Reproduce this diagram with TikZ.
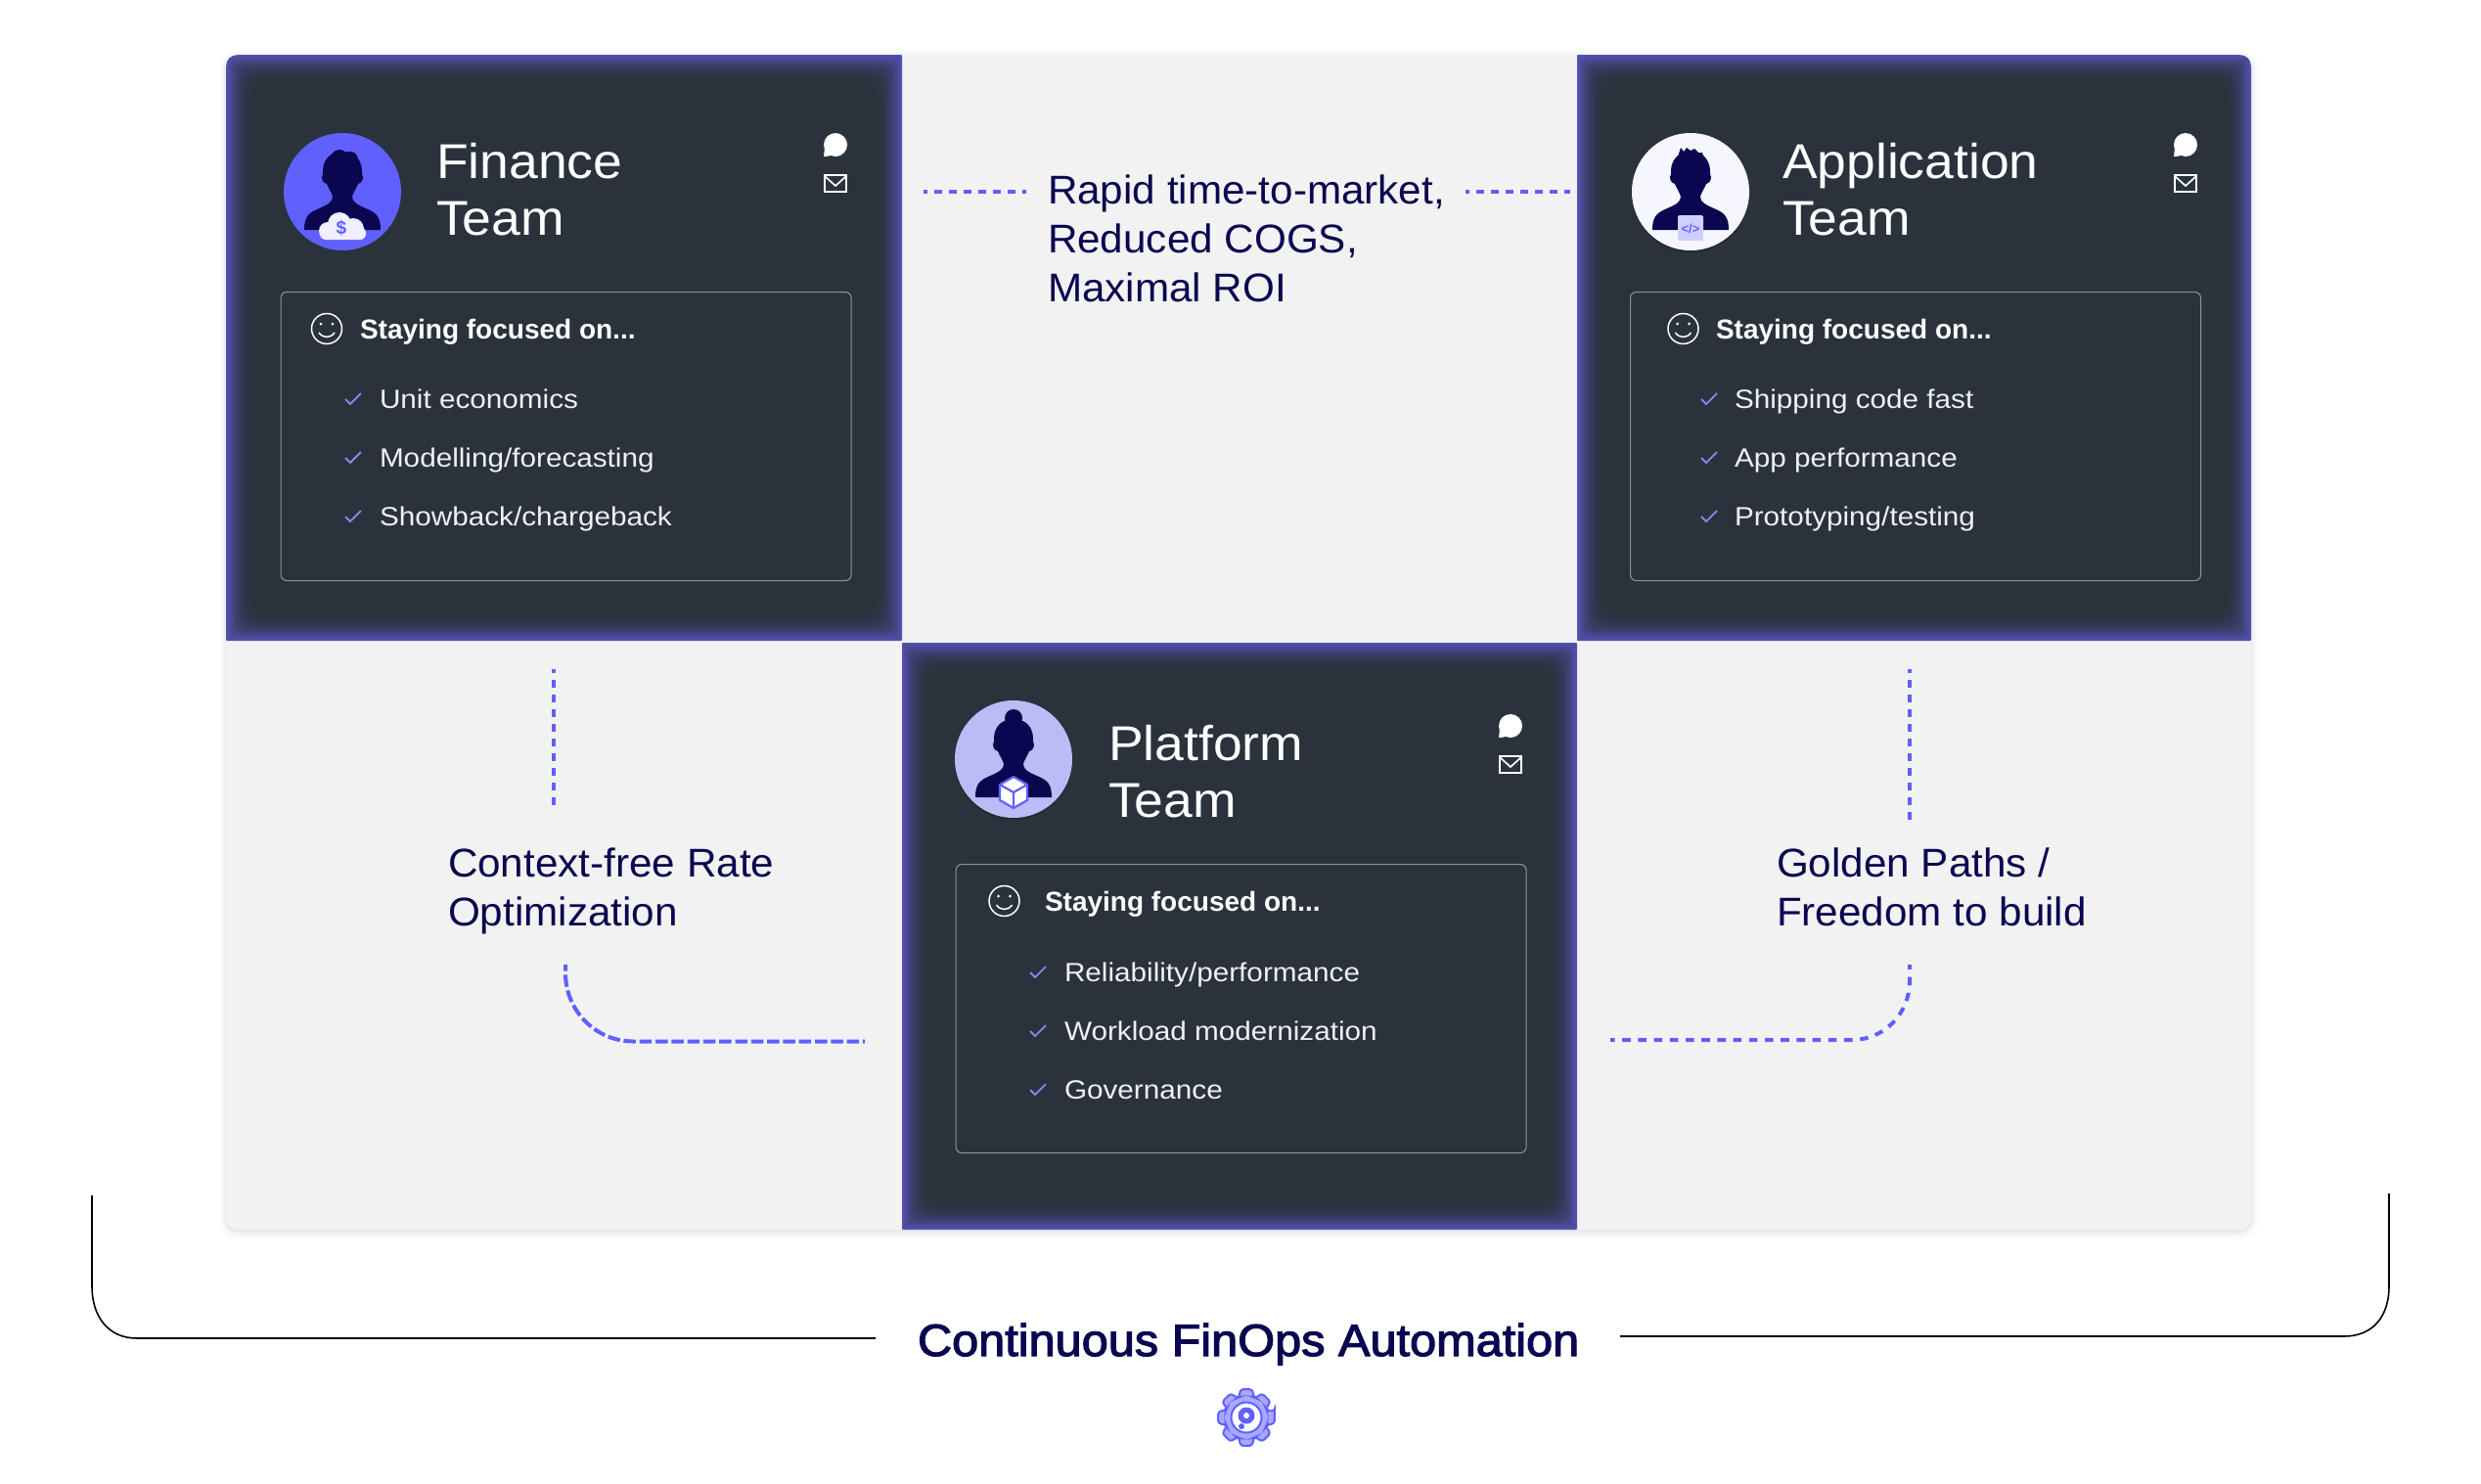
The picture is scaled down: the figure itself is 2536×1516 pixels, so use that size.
\documentclass[tikz,border=0pt]{standalone}
\usepackage{fontspec}
\setmainfont{Liberation Sans}
\newfontfamily\teamfont[FakeStretch=1.07]{Liberation Sans}
\newfontfamily\itemfont[FakeStretch=1.10]{Liberation Sans}
\newfontfamily\bigfont[FakeStretch=1.03]{Liberation Sans}
\newfontfamily\autofont[FakeStretch=1.058,FakeBold=2.5]{Liberation Sans}
\definecolor{navy}{HTML}{0A0650}
\definecolor{darkp}{HTML}{2A323C}
\definecolor{glow}{HTML}{5552B4}
\definecolor{cellg}{HTML}{F2F2F2}
\definecolor{acc}{HTML}{6060FF}
\definecolor{lilac}{HTML}{BCBBF5}
\definecolor{chk}{HTML}{8A85F0}
\definecolor{boxl}{HTML}{8D9199}
\definecolor{itemc}{HTML}{F0F0F6}
\tikzset{
  x=1pt,y=-1pt,
  txt/.style={inner sep=0pt,outer sep=0pt,anchor=base west},
  teamname/.style={txt,align=left,text=white,font=\teamfont\fontsize{50}{58}\selectfont},
  boxhead/.style={txt,text=white,font=\bfseries\fontsize{28}{32}\selectfont},
  itemtxt/.style={txt,text=itemc,font=\itemfont\fontsize{27}{32}\selectfont},
  bigtxt/.style={txt,align=left,text=navy,font=\bigfont\fontsize{41}{50}\selectfont},
  conn/.style={draw=acc,line width=4pt,dash pattern=on 8pt off 7pt},
  connlong/.style={draw=acc,line width=4pt,dash pattern=on 12.5pt off 3.8pt},
  connmid/.style={draw=acc,line width=4pt,dash pattern=on 8.6pt off 7.6pt},
  bracket/.style={draw=black,line width=1.6pt},
  chkmark/.style={draw=chk,line width=1.8pt},
  innerbox/.style={draw=boxl,line width=1.1pt,rounded corners=6pt},
  whitel/.style={draw=white,line width=1.7pt}
}
% inner glow panel
\newcommand{\glowpanel}[4]{%
  \foreach \i in {0,...,26}{%
    \pgfmathtruncatemacro\p{100*(1-\i/26)^1.7}%
    \fill[glow!\p!darkp,rounded corners={(\i+1)*0.9pt}] ({#1+\i},{#2+\i}) rectangle ({#3-\i},{#4-\i});
  }%
}
% person silhouette, drawn around the avatar centre
\newcommand{\silhouette}{%
  \fill[navy] (-39,39) .. controls (-39,26) and (-35,22) .. (-26,18)
    .. controls (-15,13) and (-10,11) .. (-10,5)
    .. controls (-11,1) and (-14,-3) .. (-16,-8)
    .. controls (-21,-9) and (-22,-15) .. (-20,-18)
    .. controls (-21,-32) and (-13,-41) .. (0,-41)
    .. controls (13,-41) and (21,-32) .. (20,-18)
    .. controls (22,-15) and (21,-9) .. (16,-8)
    .. controls (14,-3) and (11,1) .. (10,5)
    .. controls (10,11) and (15,13) .. (26,18)
    .. controls (35,22) and (39,26) .. (39,39) -- cycle;
}
\newcommand{\contacticons}[2]{%
  \begin{scope}[shift={(#1,#2)}]
    \fill[white] (0,0) ellipse [x radius=12,y radius=12];
    \fill[white] (-11,3) -- (-12,12) .. controls (-8,12) and (-5,11) .. (-2,10) -- cycle;
    \draw[whitel] (-11,31) rectangle (11,48);
    \draw[whitel] (-11,32) -- (0,42) -- (11,32);
  \end{scope}%
}
\newcommand{\smiley}[2]{%
  \begin{scope}[shift={(#1,#2)}]
    \draw[whitel,line width=1.5pt] (0,0) circle (15.5);
    \fill[white] (-6,-5) circle (1.5) (6,-5) circle (1.5);
    \draw[whitel,line width=1.5pt] (-8,4) .. controls (-4,10) and (4,10) .. (8,4);
  \end{scope}%
}
\newcommand{\tick}[2]{%
  \draw[chkmark] ({#1},{#2}) -- ({#1+5},{#2+5}) -- ({#1+16},{#2-6});
}
\begin{document}
\begin{tikzpicture}
\useasboundingbox (0,0) rectangle (2536,1516);
\fill[white] (0,0) rectangle (2536,1516);
% soft shadow and grid
\foreach \s/\o in {8/0.012,5/0.016,3/0.022,1/0.035}{
  \fill[black,opacity=\o,rounded corners={12pt+\s*1pt}] ({231-\s},{56-\s+2}) rectangle ({2301+\s},{1257+\s+2});
}
\fill[cellg,rounded corners=12pt] (231,56) rectangle (2301,1257);
\begin{scope}
  \clip[rounded corners=12pt] (231,56) rectangle (2301,1257);
  \glowpanel{231}{56}{922}{655}
  \glowpanel{1612}{56}{2301}{655}
  \glowpanel{922}{657}{1612}{1257}
\end{scope}

% avatars
\fill[acc] (350,196) circle (60);
\begin{scope}[shift={(350,196)}]
  \silhouette
  \fill[navy] (-3,-34) circle (9) (8,-33) circle (8);
  \fill[acc!10!white] (-3,33) circle (12) (11,38) circle (11) (-15,40) circle (9);
  \fill[acc!10!white,rounded corners=6pt] (-23,36) rectangle (24,49);
  \node[txt,anchor=base,text=acc,font=\bfseries\fontsize{19}{20}\selectfont] (fin-dollar) at (-1,43) {\$};
\end{scope}
\fill[black,opacity=.18] (1728,198) circle (60);
\fill[acc!6!white] (1728,196) circle (60);
\begin{scope}[shift={(1728,196)}]
  \silhouette
  \fill[navy] (-14,-33) -- (-10,-45) -- (-7,-41) -- (-4,-45) -- (0,-42) -- (4,-44) -- (8,-40) -- (12,-40) -- (17,-25) -- cycle;
  \fill[acc!30!white,rounded corners=2pt] (-13,24) rectangle (13,50);
  \node[txt,anchor=base,text=acc,font=\bfseries\fontsize{13}{14}\selectfont] (app-code) at (0,42) {</>};
\end{scope}
\fill[black,opacity=.18] (1036,778) circle (60);
\fill[lilac] (1036,776) circle (60);
\begin{scope}[shift={(1036,776)}]
  \silhouette
  \fill[navy] (0,-42) circle (9);
  \begin{scope}[shift={(0,34)}]
    \fill[white] (0,-16) -- (14,-8) -- (14,8) -- (0,16) -- (-14,8) -- (-14,-8) -- cycle;
    \draw[acc,line width=2.2pt,line join=round] (0,-16) -- (14,-8) -- (14,8) -- (0,16) -- (-14,8) -- (-14,-8) -- cycle;
    \draw[acc,line width=2.2pt,line join=round] (-14,-8) -- (0,0) -- (14,-8) (0,0) -- (0,16);
  \end{scope}
\end{scope}

% team names (positions are the baseline of the last line)
\node[teamname] (fin-name) at (446,240) {Finance\\Team};
\node[teamname] (app-name) at (1822,240) {Application\\Team};
\node[teamname] (plat-name) at (1133,835) {Platform\\Team};

\contacticons{854}{148}
\contacticons{2234}{148}
\contacticons{1544}{742}

% inner boxes
\node[innerbox,minimum width=583pt,minimum height=295pt,anchor=north west,inner sep=0pt] (fin-box) at (286.5,298) {};
\node[innerbox,minimum width=583pt,minimum height=295pt,anchor=north west,inner sep=0pt] (app-box) at (1666,298) {};
\node[innerbox,minimum width=583pt,minimum height=295pt,anchor=north west,inner sep=0pt] (plat-box) at (976.5,883) {};

\smiley{334}{336}
\smiley{1720.5}{336}
\smiley{1026.5}{921}

\node[boxhead] (fin-head) at (368,346) {Staying focused on...};
\node[boxhead] (app-head) at (1754,346) {Staying focused on...};
\node[boxhead] (plat-head) at (1068,931) {Staying focused on...};

\foreach \xx/\yy/\nm/\tx/\tk in {388/417/fin-i1/Unit economics/353,388/477/fin-i2/Modelling\slash forecasting/353,388/537/fin-i3/Showback\slash chargeback/353,
  1773/417/app-i1/Shipping code fast/1739,1773/477/app-i2/App performance/1739,1773/537/app-i3/Prototyping\slash testing/1739,
  1088/1003/plat-i1/Reliability\slash performance/1053,1088/1063/plat-i2/Workload modernization/1053,1088/1123/plat-i3/Governance/1053}{
  \node[itemtxt] (\nm) at (\xx,\yy) {\tx};
  \tick{\tk}{\yy-9}
}

% labels
\node[bigtxt] (rapid) at (1071,308) {Rapid time-to-market,\\Reduced COGS,\\Maximal ROI};
\node[bigtxt] (context) at (458,946) {Context-free Rate\\Optimization};
\node[bigtxt] (golden) at (1816,946) {Golden Paths /\\Freedom to build};

% connector end points
\coordinate (h1a) at (944,195.5); \coordinate (h1b) at (1049,195.5);
\coordinate (h2a) at (1498,195.5); \coordinate (h2b) at (1605,195.5);
\coordinate (v1a) at (566,684); \coordinate (v1b) at (566,825);
\coordinate (v2a) at (1952,684); \coordinate (v2b) at (1952,843);
\coordinate (c1a) at (578,986); \coordinate (c1b) at (884,1064.5);
\coordinate (c2a) at (1646,1063); \coordinate (c2b) at (1952,986);
\draw[conn,dash phase=4pt] (h1a) -- (h1b);
\draw[conn,dash phase=4pt] (h2a) -- (h2b);
\draw[conn,dash phase=4pt] (v1a) -- (v1b);
\draw[conn,dash phase=4pt] (v2a) -- (v2b);
\draw[connlong,dash phase=6pt] (c1a) -- (578,995) .. controls (578,1033) and (609,1064.5) .. (647,1064.5) -- (c1b);
\draw[connmid,dash phase=4pt] (c2a) -- (1893,1063) .. controls (1926,1063) and (1952,1036) .. (1952,1003) -- (c2b);

% bracket
\node[txt,text=navy,font=\autofont\fontsize{46}{50}\selectfont] (cfa) at (938,1386) {Continuous FinOps Automation};
\coordinate (b1a) at (94,1222); \coordinate (b1b) at (895,1368);
\coordinate (b2a) at (1656,1366); \coordinate (b2b) at (2442,1220);
\draw[bracket] (b1a) -- (94,1315) .. controls (94,1345) and (110,1368) .. (140,1368) -- (b1b);
\draw[bracket] (b2a) -- (2396,1366) .. controls (2426,1366) and (2442,1345) .. (2442,1315) -- (b2b);

% gear
\begin{scope}[shift={(1274,1449)}]
  \draw[draw=acc,fill=acc!55!white,line width=2pt,rounded corners=3pt]
    (-12:29.5) \foreach \a in {0,45,...,315}{ -- ({\a-12}:29.5) -- ({\a+12}:29.5) -- ({\a+20}:22) -- ({\a+25}:22) } -- cycle;
  \fill[white,draw=acc,line width=2pt] (0,0) circle (15.5);
  \fill[acc] (0,-2) circle (8.5);
  \fill[white] (0,-2) circle (3);
  \fill[acc] (-5,9) circle (3);
\end{scope}
\end{tikzpicture}
\end{document}
